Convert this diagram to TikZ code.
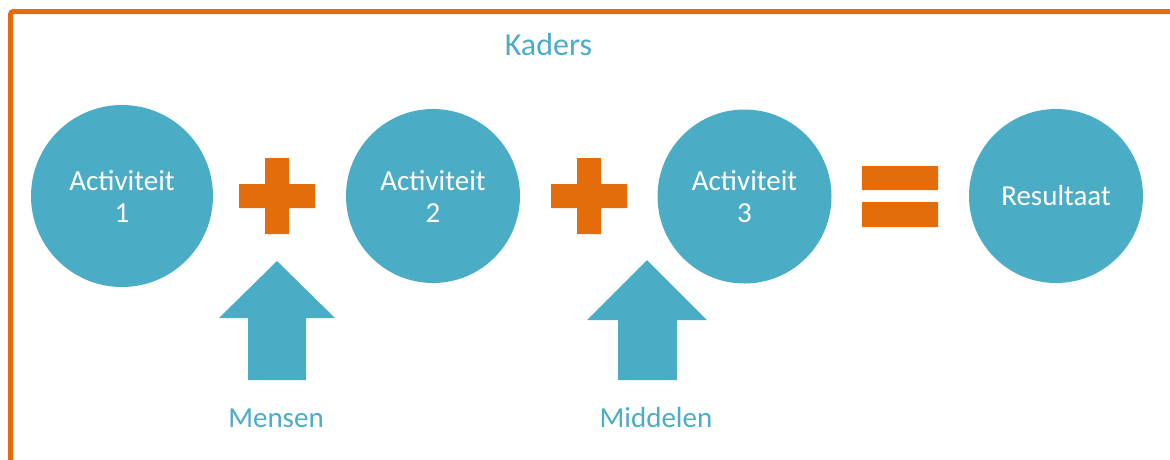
\documentclass[tikz,border=0pt]{standalone}
\usepackage{fontspec}
\setmainfont{Carlito}
\definecolor{cblue}{HTML}{4BACC6}
\definecolor{corange}{HTML}{E46C0A}
\begin{document}
\begin{tikzpicture}[x=1pt,y=-1pt,
  act/.style={circle, fill=cblue, text=white, inner sep=0pt, align=center,
    font=\fontsize{29}{32}\selectfont},
  lbl/.style={text=cblue, inner sep=0pt, anchor=base, font=\fontsize{29}{32}\selectfont},
  opbar/.style={fill=corange},
  uparrow/.style={fill=cblue}]
\useasboundingbox (0,0) rectangle (1170,459);
% frame
\draw[corange, line width=5pt, rounded corners=3pt] (1175,11.5) -- (10.5,11.5) -- (10.5,465);
% title
\node[lbl, font=\fontsize{32}{36}\selectfont] (kaders) at (548.5,55) {Kaders};
% circles
\node[act, minimum size=182pt] (a1) at (122,196) {Activiteit\\1};
\node[act, minimum size=174pt] (a2) at (433,196) {Activiteit\\2};
\node[act, minimum size=174pt] (a3) at (744.5,196.5) {Activiteit\\3};
\node[act, minimum size=174pt] (res) at (1056,196) {Resultaat};
% plus signs
\fill[opbar] (265,158) rectangle (289,234) (239,184) rectangle (315,208);
\fill[opbar] (577,158) rectangle (601,234) (551,184) rectangle (627,208);
% equals
\fill[opbar] (862,166) rectangle (938,190) (862,202) rectangle (938,227);
% arrows
\fill[uparrow] (277,261) -- (335,318) -- (306,318) -- (306,380) -- (248,380) -- (248,318) -- (219,318) -- cycle;
\fill[uparrow] (647,260) -- (707,320) -- (677,320) -- (677,380) -- (618,380) -- (618,320) -- (587,320) -- cycle;
% labels
\node[lbl] (mensen) at (276,427) {Mensen};
\node[lbl] (middelen) at (656,427) {Middelen};
\end{tikzpicture}
\end{document}
